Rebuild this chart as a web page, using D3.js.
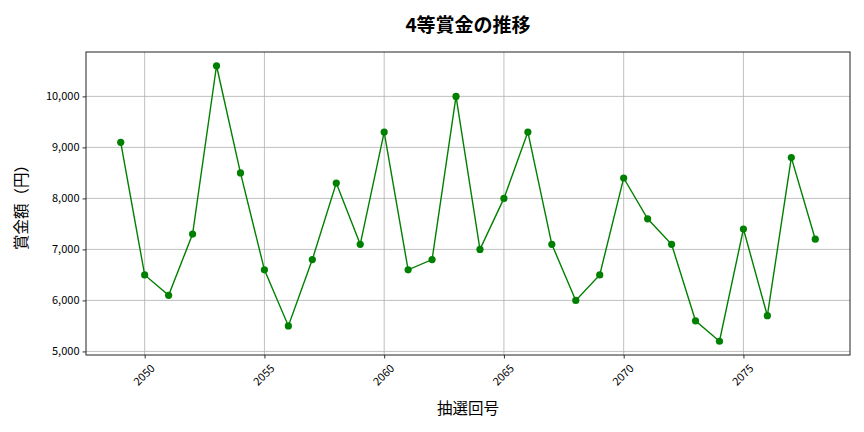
<!DOCTYPE html>
<html>
<head>
<meta charset="utf-8">
<script src="https://cdn.jsdelivr.net/npm/d3@7"></script>
<style>
  body { margin: 0; background: #fff; }
  svg { font-family: "Noto Sans CJK JP", "Noto Sans", sans-serif; }
</style>
</head>
<body>
<div id="container"></div>
<script>
// Data
const draws = d3.range(2049, 2079);
const prizes = [9100, 6500, 6100, 7300, 10600, 8500, 6600, 5500, 6800, 8300,
  7100, 9300, 6600, 6800, 10000, 7000, 8000, 9300, 7100, 6000,
  6500, 8400, 7600, 7100, 5600, 5200, 7400, 5700, 8800, 7200];
const xTicks = [2050, 2055, 2060, 2065, 2070, 2075];
const yTicks = [5000, 6000, 7000, 8000, 9000, 10000];

const data = draws.map((d, i) => ({ draw: d, prize: prizes[i] }));

const W = 864, H = 432;
const m = { left: 86, right: 14, top: 52, bottom: 77 };
const font = '"Noto Sans CJK JP", "Noto Sans", sans-serif';

const svg = d3.select('#container').append('svg')
  .attr('width', W)
  .attr('height', H);

// Scales (matplotlib-ish 5% margins)
const xPad = (2078 - 2049) * 0.05;
const yPad = (10600 - 5200) * 0.05;
const x = d3.scaleLinear().domain([2049 - xPad, 2078 + xPad]).range([m.left, W - m.right]);
const y = d3.scaleLinear().domain([5200 - yPad, 10600 + yPad]).range([H - m.bottom, m.top]);

// Grid
svg.append('g').selectAll('line.gx')
  .data(xTicks).enter().append('line')
  .attr('x1', d => x(d)).attr('x2', d => x(d))
  .attr('y1', m.top).attr('y2', H - m.bottom)
  .attr('stroke', '#b0b0b0').attr('stroke-width', 0.8);
svg.append('g').selectAll('line.gy')
  .data(yTicks).enter().append('line')
  .attr('y1', d => y(d)).attr('y2', d => y(d))
  .attr('x1', m.left).attr('x2', W - m.right)
  .attr('stroke', '#b0b0b0').attr('stroke-width', 0.8);

// Axes
const xAxis = svg.append('g')
  .attr('transform', `translate(0,${H - m.bottom})`)
  .call(d3.axisBottom(x).tickValues(xTicks).tickSize(3.5).tickFormat(d3.format('d')))
  .attr('font-family', font);
xAxis.selectAll('text')
  .attr('font-size', 11)
  .attr('fill', '#000')
  .attr('text-anchor', 'middle')
  .attr('y', 0)
  .attr('dy', '0.35em')
  .attr('transform', 'translate(-1,20) rotate(-45)');

const yAxis = svg.append('g')
  .attr('transform', `translate(${m.left},0)`)
  .call(d3.axisLeft(y).tickValues(yTicks).tickSize(3.5).tickFormat(d3.format(',')))
  .attr('font-family', font);
yAxis.selectAll('text').attr('font-size', 11).attr('fill', '#000');

svg.selectAll('.domain').remove();
svg.selectAll('.tick line').attr('stroke', '#000').attr('stroke-width', 0.8);

// Frame
svg.append('rect')
  .attr('x', m.left).attr('y', m.top)
  .attr('width', W - m.left - m.right)
  .attr('height', H - m.top - m.bottom)
  .attr('fill', 'none')
  .attr('stroke', '#222')
  .attr('stroke-width', 1);

// Line
svg.append('path')
  .datum(data)
  .attr('fill', 'none')
  .attr('stroke', 'green')
  .attr('stroke-width', 1.4)
  .attr('d', d3.line().x(d => x(d.draw)).y(d => y(d.prize)));

svg.append('g').selectAll('circle')
  .data(data).enter().append('circle')
  .attr('cx', d => x(d.draw))
  .attr('cy', d => y(d.prize))
  .attr('r', 3.6)
  .attr('fill', 'green');

// Titles
svg.append('text')
  .attr('x', (m.left + W - m.right) / 2).attr('y', 32)
  .attr('text-anchor', 'middle')
  .attr('font-size', 19).attr('font-weight', 'bold')
  .text('4等賞金の推移');

svg.append('text')
  .attr('x', (m.left + W - m.right) / 2).attr('y', 414)
  .attr('text-anchor', 'middle')
  .attr('font-size', 15.5)
  .text('抽選回号');

svg.append('text')
  .attr('transform', `translate(27,${(m.top + H - m.bottom) / 2}) rotate(-90)`)
  .attr('text-anchor', 'middle')
  .attr('font-size', 15.5)
  .text('賞金額（円）');
</script>
</body>
</html>
